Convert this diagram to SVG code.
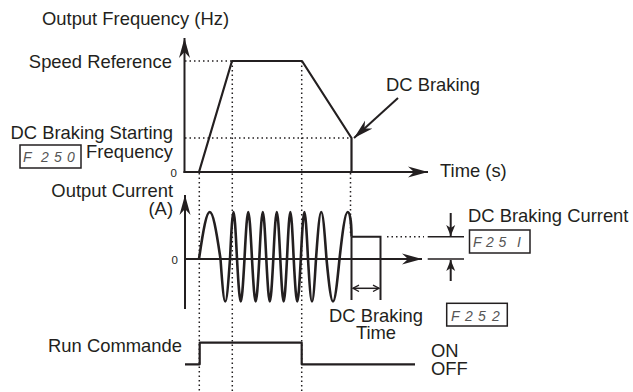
<svg xmlns="http://www.w3.org/2000/svg" width="633" height="392" viewBox="0 0 633 392">
<style>
.t{font-family:"Liberation Sans",Arial,sans-serif;font-size:18.4px;fill:#231f20}
.z{font-family:"Liberation Sans",Arial,sans-serif;font-size:11.5px;fill:#231f20}
.seg{font-family:"Liberation Sans",Arial,sans-serif;font-size:14px;font-style:italic;fill:#555}
.ax{stroke:#231f20;stroke-width:2;fill:none}
.tr{stroke:#231f20;stroke-width:2.2;fill:none;stroke-linejoin:round}
.wv{stroke:#231f20;stroke-width:2.6;fill:none}
.dot{stroke:#231f20;stroke-width:1.5;stroke-dasharray:1.5 3;fill:none}
.thin{stroke:#231f20;stroke-width:1.5;fill:none}
.box{fill:#fff;stroke:#231f20;stroke-width:1.5}
</style>
<defs>
<marker id="ah" viewBox="-20 -6 21 12" markerWidth="21" markerHeight="12" refX="0" refY="0" orient="auto" markerUnits="userSpaceOnUse">
<path d="M0,0 L-20,-5.5 L-14,0 L-20,5.5 Z" fill="#231f20"/>
</marker>
<marker id="sa" viewBox="-12 -5 13 10" markerWidth="13" markerHeight="10" refX="0" refY="0" orient="auto" markerUnits="userSpaceOnUse">
<path d="M0,0 L-11,-4.5 L-8,0 L-11,4.5 Z" fill="#231f20"/>
</marker>
<marker id="ch" viewBox="-7 -4 8 8" markerWidth="8" markerHeight="8" refX="0" refY="0" orient="auto-start-reverse" markerUnits="userSpaceOnUse">
<path d="M-6,-3.2 L0,0 L-6,3.2" fill="none" stroke="#231f20" stroke-width="1.3"/>
</marker>
</defs>
<rect width="633" height="392" fill="#fff"/>

<g id="labels">
<text class="t" x="42" y="25">Output Frequency (Hz)</text>
<text class="t" x="172" y="68" text-anchor="end">Speed Reference</text>
<text class="t" x="173" y="139" text-anchor="end">DC Braking Starting</text>
<text class="t" x="173" y="158" text-anchor="end">Frequency</text>
<text class="z" x="177" y="177" text-anchor="end">0</text>
<text class="t" x="173" y="197" text-anchor="end">Output Current</text>
<text class="t" x="173" y="215" text-anchor="end">(A)</text>
<text class="z" x="178" y="264" text-anchor="end">0</text>
<text class="t" x="182" y="352" text-anchor="end">Run Commande</text>
<text class="t" x="386" y="90.5">DC Braking</text>
<text class="t" x="440" y="177">Time (s)</text>
<text class="t" x="468" y="221.5">DC Braking Current</text>
<text class="t" x="376" y="321.7" text-anchor="middle">DC Braking</text>
<text class="t" x="376" y="339.3" text-anchor="middle">Time</text>
<text class="t" x="431" y="356.5">ON</text>
<text class="t" x="431" y="375">OFF</text>
</g>

<g id="f250">
<rect class="box" x="20" y="145" width="61" height="23"/>
<text class="seg" x="23 41 54 67" y="162">F250</text>
</g>
<g id="f251">
<rect class="box" x="469.5" y="230" width="60.5" height="23"/>
<text class="seg" x="473 486 498.5 517" y="247">F25I</text>
</g>
<g id="f252">
<rect class="box" x="446.7" y="303.3" width="60.6" height="22.7"/>
<text class="seg" x="451 465 478 492" y="320.5">F252</text>
</g>

<g id="guides">
<path class="dot" d="M185,61 H232 M185,138 H351"/>
<path class="dot" d="M199.3,173 V392 M232.3,61 V392 M301.7,61 V392 M350.5,173 V236"/>
<path class="dot" d="M387,236.7 H424"/>
</g>

<g id="axes">
<path class="ax" d="M184.5,173 V38" marker-end="url(#ah)"/>
<path class="ax" d="M183.5,172 H428" marker-end="url(#ah)"/>
<path class="ax" d="M185,309 V195" marker-end="url(#ah)"/>
<path class="ax" d="M184,259 H422" marker-end="url(#ah)"/>
</g>

<g id="frequency-trace">
<path class="tr" d="M199,172 L232,61 H302 L351.5,138 V172"/>
</g>

<g id="current-trace">
<path class="wv" d="M199,259 C208.12,196.3 211.38,196.3 220.5,259 C224.53,315.7 225.97,315.7 230,259 C232.97,196.3 234.03,196.3 237,259 C240.18,315.7 241.32,315.7 244.5,259 C247.68,196.3 248.82,196.3 252,259 C255.1,315.7 256.2,315.7 259.3,259 C262.27,196.3 263.33,196.3 266.3,259 C269.27,315.7 270.33,315.7 273.3,259 C276.27,196.3 277.33,196.3 280.3,259 C283.14,315.7 284.16,315.7 287,259 C289.84,196.3 290.86,196.3 293.7,259 C296.71,315.7 297.79,315.7 300.8,259 C303.86,196.3 304.94,196.3 308,259 C311.4,315.7 312.6,315.7 316,259 C320.46,196.3 322.04,196.3 326.5,259 C332.02,315.7 333.98,315.7 339.5,259 C342.2,234.6 345,212 347.7,212 C350,212 351.5,224 351.5,236.7"/>
<path class="ax" d="M351.5,236.7 H380.5 V300 M351.5,236.7 V300"/>
</g>

<g id="run-command">
<path class="tr" d="M185,364.3 H199.7 V342.7 H301.7 V364.3 H415"/>
</g>

<g id="connectors">
<path class="ax" d="M398,98 L354,138" marker-end="url(#ah)"/>
<path class="thin" d="M427.7,236.7 H464 M427.7,259 H464"/>
<path class="ax" d="M450.7,213 V236" marker-end="url(#sa)"/>
<path class="ax" d="M450.7,281 V260" marker-end="url(#sa)"/>
<path class="thin" d="M353,288.3 H379" marker-start="url(#ch)" marker-end="url(#ch)"/>
</g>
</svg>
